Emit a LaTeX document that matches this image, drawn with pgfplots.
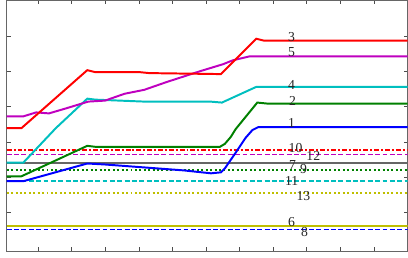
\documentclass[border=0pt]{standalone}
\usepackage{pgfplots}
\pgfplotsset{compat=1.18}
\usepackage{fontspec}
\setmainfont{Liberation Serif}
\definecolor{mb}{rgb}{0,0,1}
\definecolor{mg}{rgb}{0,0.5,0}
\definecolor{mr}{rgb}{1,0,0}
\definecolor{mc}{rgb}{0,0.75,0.75}
\definecolor{mm}{rgb}{0.75,0,0.75}
\definecolor{my}{rgb}{0.75,0.75,0}
\definecolor{mk}{rgb}{0.4,0.4,0.4}
\tikzset{lab/.style={font=\fontsize{14}{14}\selectfont, inner sep=0pt, text=black!85}}
\begin{document}
\begin{tikzpicture}[x=1bp,y=1bp]
\begin{axis}[
  width=408bp, height=255bp, scale only axis,
  xmin=0, xmax=408, ymin=0, ymax=255, y dir=reverse,
  xtick={32,66,100,135,169,203,237,271,305,339,374},
  ytick={37,72,108,144,180,216},
  xticklabels={}, yticklabels={},
  tick align=inside, major tick length=4bp,
  tick style={black!70, line width=0.6bp},
  axis line style={black!60, line width=0.8bp},
  clip=true,
]
% horizontal reference lines
\addplot[my, line width=1.8bp] coordinates {(0,229.5) (408,229.5)};
\addplot[mk, line width=1.6bp] coordinates {(0,165.5) (408,165.5)};
\addplot[mb, line width=1.6bp, dash pattern=on 5bp off 2.5bp] coordinates {(0,233) (408,233)};
\addplot[mg, line width=1.6bp, dash pattern=on 2bp off 2.5bp] coordinates {(0,172.5) (408,172.5)};
\addplot[mr, line width=1.6bp, dash pattern=on 5bp off 2bp on 2bp off 2bp] coordinates {(0,152) (408,152)};
\addplot[mc, line width=1.6bp, dash pattern=on 5bp off 2.5bp] coordinates {(0,184) (408,184)};
\addplot[mm, line width=1.6bp, dash pattern=on 5bp off 2.5bp] coordinates {(0,157) (408,157)};
\addplot[my, line width=1.6bp, dash pattern=on 2bp off 2.5bp] coordinates {(0,196) (408,196)};
% curves
\addplot[mc, line width=2bp] coordinates {(0,165) (17,165) (50,130) (82,100) (90,101) (140,103) (207,103) (219,104) (254,88) (408,88)};
\addplot[mb, line width=2bp] coordinates {(0,184) (17,184) (82,166) (100,167) (140,170) (180,173) (208,176) (218,175) (222,171) (233,155) (243,140) (250,132) (256,129) (408,129)};
\addplot[mg, line width=2bp] coordinates {(0,179) (15,179) (82,148) (90,149) (140,149) (217,149) (222,146) (228,139) (233,131) (255,104) (265,105) (408,105)};
\addplot[mm, line width=2bp] coordinates {(0,118) (17,118) (30,114) (43,115) (60,110) (83,103) (100,102) (120,95) (140,91) (163,83) (197,72) (220,65) (230,61) (247,57) (408,57)};
\addplot[mr, line width=2bp] coordinates {(0,130) (15,130) (82,71) (90,73) (135,73) (145,74) (218,75) (254,39) (262,41) (408,41)};
% labels
\node[lab] at (axis cs:290,37) {3};
\node[lab] at (axis cs:290,53) {5};
\node[lab] at (axis cs:290,86) {4};
\node[lab] at (axis cs:291,102) {2};
\node[lab] at (axis cs:290,125) {1};
\node[lab] at (axis cs:294,150) {10};
\node[lab] at (axis cs:312,158) {12};
\node[lab] at (axis cs:291,168) {7};
\node[lab] at (axis cs:302,172) {9};
\node[lab] at (axis cs:290,184) {11};
\node[lab] at (axis cs:302,199) {13};
\node[lab] at (axis cs:290,226) {6};
\node[lab] at (axis cs:303,236) {8};
\end{axis}
\end{tikzpicture}
\end{document}
